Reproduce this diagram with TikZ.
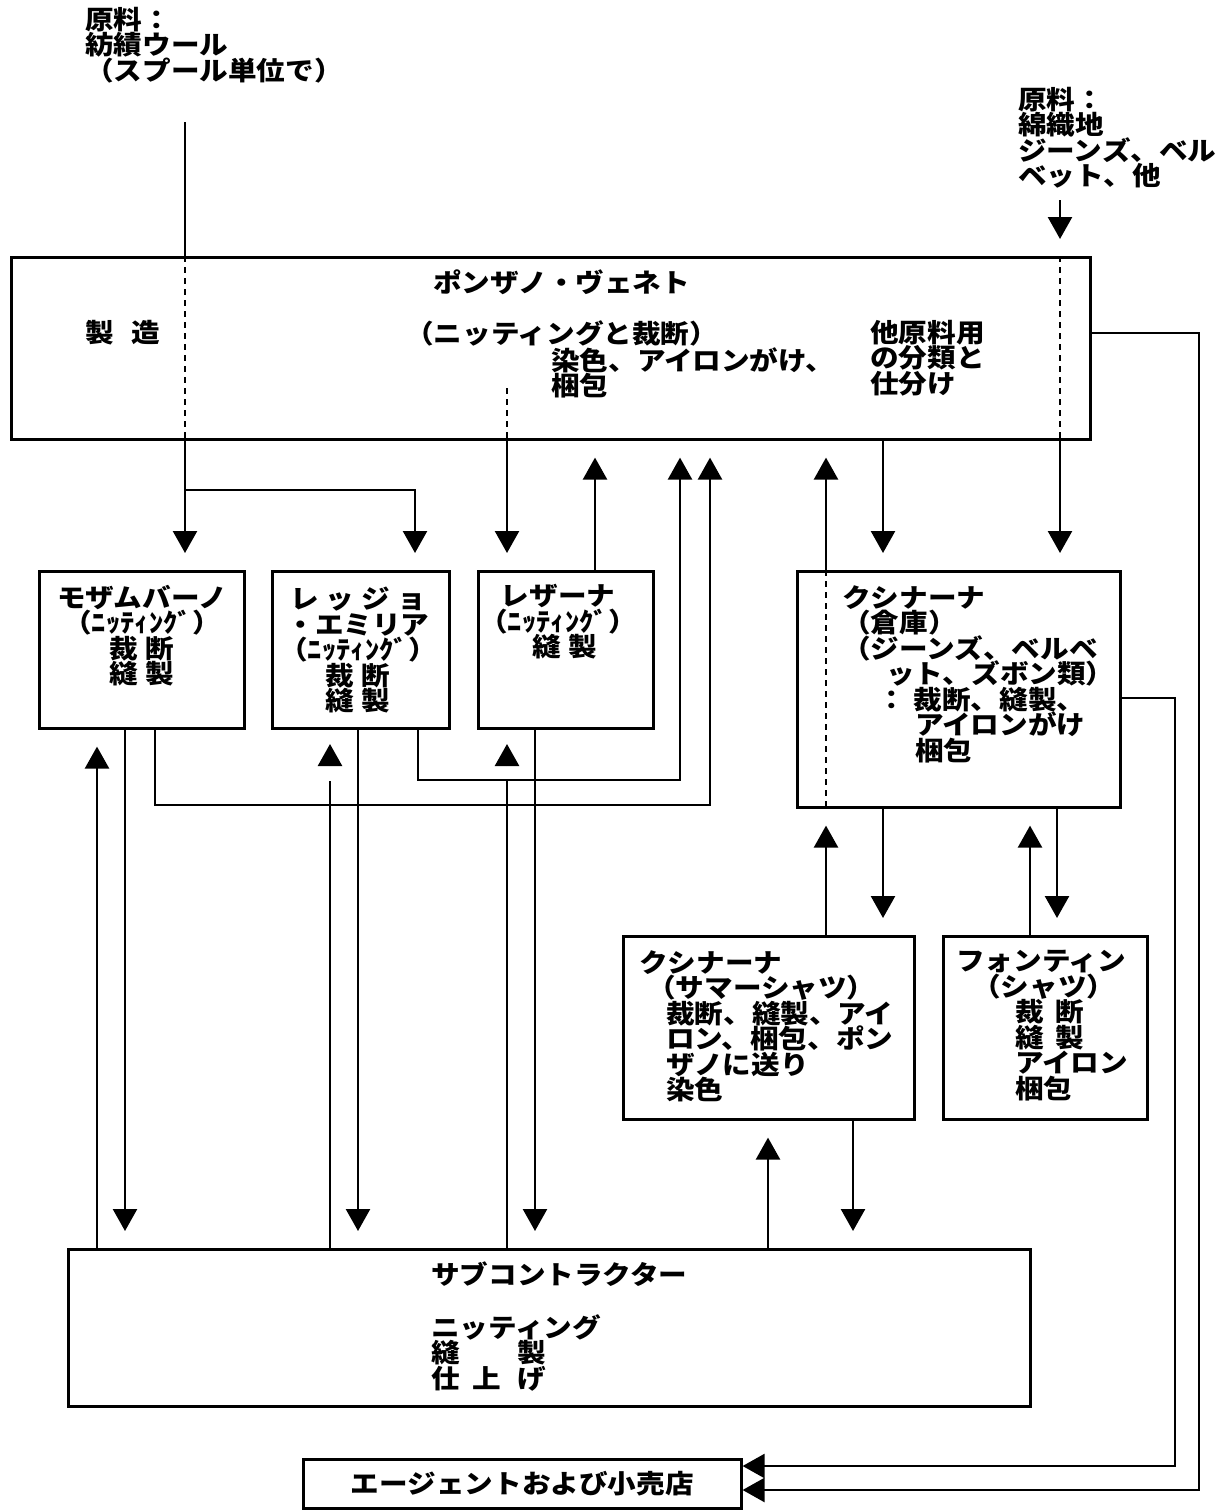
\documentclass[tikz,border=0pt]{standalone}
\usepackage{fontspec}
\setmainfont{Noto Sans CJK JP}[FakeStretch=1.1]
\usetikzlibrary{arrows.meta}
\begin{document}
\begin{tikzpicture}[x=1pt,y=-1pt,
 box/.style={draw,line width=2.6pt,inner sep=0pt,anchor=north west},
 jt/.style={font=\bfseries\fontsize{26}{25.5}\selectfont,inner sep=0pt,align=left,anchor=north west},
 jc/.style={font=\bfseries\fontsize{26}{25.5}\selectfont,inner sep=0pt,align=center,anchor=north},
 ln/.style={line width=2.5pt},
 dln/.style={line width=2.5pt,dash pattern=on 6pt off 5pt},
 arr/.style={line width=2.5pt,-{Triangle[width=24pt,length=22pt]},shorten >=17pt},
 arrt/.style={line width=2.5pt,-{Triangle[width=24pt,length=22pt]}},
 tip/.style={line width=2.5pt,-{Triangle[width=24pt,length=22pt]}}]
\useasboundingbox (0,0) rectangle (1228,1510);

% boxes
\node[box,minimum width=1079pt,minimum height=182pt] (pv) at (10,256) {};
\node[box,minimum width=205pt,minimum height=157pt] (moz) at (38,570) {};
\node[box,minimum width=177pt,minimum height=157pt] (reg) at (271,570) {};
\node[box,minimum width=175pt,minimum height=157pt] (lez) at (477,570) {};
\node[box,minimum width=323pt,minimum height=236pt] (cuc) at (796,570) {};
\node[box,minimum width=291pt,minimum height=183pt] (sum) at (622,935) {};
\node[box,minimum width=204pt,minimum height=183pt] (fon) at (942,935) {};
\node[box,minimum width=962pt,minimum height=157pt] (sub) at (67,1248) {};
\node[box,minimum width=438pt,minimum height=49pt] (agt) at (302,1458) {};

% texts
\node[jt] (rawL) at (85,7) {原料：\\紡績ウール\\（スプール単位で）};
\node[jt] (rawR) at (1018,87) {原料：\\綿織地\\ジーンズ、ベル\\ベット、他};
\node[jt] (pvT) at (433,270) {ポンザノ・ヴェネト};
\node[jt] (pvM) at (85,320) {製\hspace{18pt}造};
\node[jt] (pvA) at (405,320) {（ニッティングと裁断）};
\node[jt] (pvB) at (551,347) {染色、アイロンがけ、\\梱包};
\node[jt] (pvC) at (870,320) {他原料用\\の分類と\\仕分け};
\node[jc] (mozT) at (142,585) {モザムバーノ\\（ﾆｯﾃｨﾝｸﾞ）\\裁\hspace{8pt}断\\縫\hspace{8pt}製};
\node[jc] (regT) at (358,587) {レ\hspace{7pt}ッ\hspace{7pt}ジ\hspace{7pt}ョ\\・エミリア\\（ﾆｯﾃｨﾝｸﾞ）\\裁\hspace{8pt}断\\縫\hspace{8pt}製};
\node[jc] (lezT) at (558,584) {レザーナ\\（ﾆｯﾃｨﾝｸﾞ）\\\hspace*{14pt}縫\hspace{8pt}製};
\node[jt] (cucT) at (842,585) {クシナーナ\\（倉庫）\\（ジーンズ、ベルベ\\\hspace*{44pt}ット、ズボン類）\\\hspace*{35pt}：\hspace{8pt}裁断、縫製、\\\hspace*{73pt}アイロンがけ\\\hspace*{73pt}梱包};
\node[jt] (sumT) at (639,950) {クシナーナ\\\hspace*{8pt}（サマーシャツ）\\\hspace*{27pt}裁断、縫製、アイ\\\hspace*{27pt}ロン、梱包、ポン\\\hspace*{27pt}ザノに送り\\\hspace*{27pt}染色};
\node[jt] (fonT) at (956,950) {フォンティン\\\hspace*{16pt}（シャツ）\\\hspace*{59pt}裁\hspace{12pt}断\\\hspace*{59pt}縫\hspace{12pt}製\\\hspace*{59pt}アイロン\\\hspace*{59pt}梱包};
\node[jt] (subT) at (431,1262) {サブコントラクター\\[27pt]ニッティング\\縫\hspace{58pt}製\\仕\hspace{13pt}上\hspace{16pt}げ};
\node[jc,anchor=center] (agtT) at (agt.center) {エージェントおよび小売店};

% helper coordinates
\coordinate (srcL) at (185,122);
\coordinate (srcR) at (1060,200);
\coordinate (d507) at (507,388);

% raw wool to Mozambano / Reggio
\draw[ln] (srcL) -- (pv.north -| srcL);
\draw[dln] (pv.north -| srcL) -- (pv.south -| srcL);
\draw[arr] (pv.south -| srcL) -- (moz.north -| srcL);
\draw[arr] (185,490) -| (reg.north -| 415,0);
% Ponzano to Lezana
\draw[dln] (d507) -- (pv.south -| d507);
\draw[arr] (pv.south -| d507) -- (lez.north -| d507);
\draw[arr] (lez.north -| 595,0) -- (pv.south -| 595,0);
\draw[arr] (reg.south -| 418,0) |- (680,780) -- (pv.south -| 680,0);
\draw[arr] (moz.south -| 155,0) |- (710,805) -- (pv.south -| 710,0);
% Cucina
\draw[dln] (cuc.north -| 826,0) -- (cuc.south -| 826,0);
\draw[arr] (cuc.north -| 826,0) -- (pv.south -| 826,0);
\draw[arr] (pv.south -| 883,0) -- (cuc.north -| 883,0);
\draw[arr] (srcR) -- (pv.north -| srcR);
\draw[dln] (pv.north -| srcR) -- (pv.south -| srcR);
\draw[arr] (pv.south -| srcR) -- (cuc.north -| srcR);
\draw[arr] (sum.north -| 826,0) -- (cuc.south -| 826,0);
\draw[arr] (cuc.south -| 883,0) -- (sum.north -| 883,0);
\draw[arr] (fon.north -| 1030,0) -- (cuc.south -| 1030,0);
\draw[arr] (cuc.south -| 1057,0) -- (fon.north -| 1057,0);
% subcontractor
\draw[arr] (sub.north -| 97,0) -- (moz.south -| 97,0);
\draw[arr] (moz.south -| 125,0) -- (sub.north -| 125,0);
\draw[ln] (sub.north -| 330,0) -- (330,781);
\draw[tip] (330,766) -- (330,744);
\draw[arr] (reg.south -| 358,0) -- (sub.north -| 358,0);
\draw[ln] (sub.north -| 507,0) -- (507,781);
\draw[tip] (507,766) -- (507,744);
\draw[arr] (lez.south -| 535,0) -- (sub.north -| 535,0);
\draw[arr] (sub.north -| 768,0) -- (sum.south -| 768,0);
\draw[arr] (sum.south -| 853,0) -- (sub.north -| 853,0);
% to agents
\draw[arrt] (pv.east |- 0,333) -| (1199,1490) -- (agt.east |- 0,1490);
\draw[arrt] (cuc.east |- 0,698) -| (1175,1466) -- (agt.east |- 0,1466);
\end{tikzpicture}
\end{document}
